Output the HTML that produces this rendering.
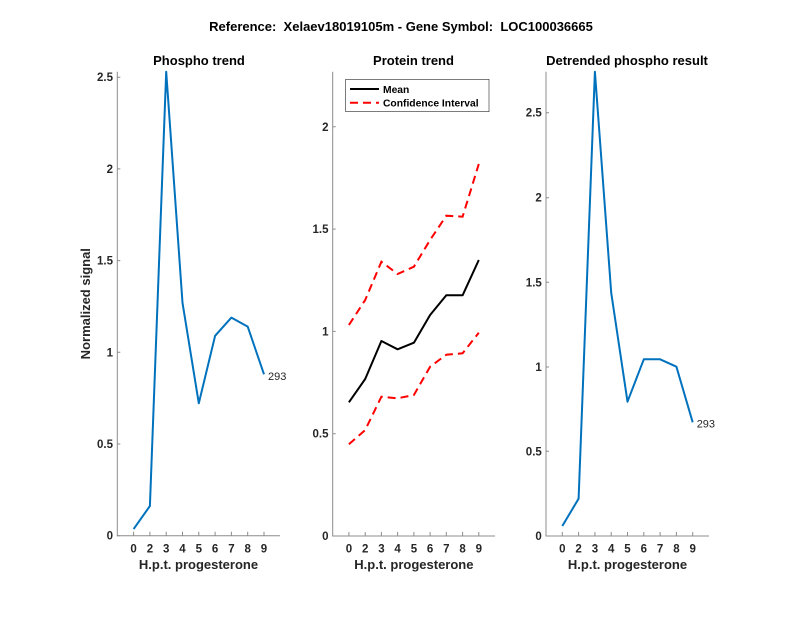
<!DOCTYPE html>
<html>
<head>
<meta charset="utf-8">
<style>
html,body{margin:0;padding:0;background:#fff;}
svg{display:block;}
text{font-family:"Liberation Sans",Arial,sans-serif;}
.t{font-size:13px;font-weight:bold;fill:#000;}
.tk{font-size:11.5px;font-weight:bold;fill:#262626;}
.lab{font-size:13px;font-weight:bold;fill:#262626;}
.ax{stroke:#8c8c8c;stroke-width:1;fill:none;}
.bl{stroke:#0072BD;stroke-width:2;fill:none;stroke-linejoin:round;}
</style>
</head>
<body>
<svg width="800" height="618" viewBox="0 0 800 618" xmlns="http://www.w3.org/2000/svg">
<rect width="800" height="618" fill="#fff"/>
<text class="t" x="401" y="31" text-anchor="middle" xml:space="preserve">Reference:  Xelaev18019105m - Gene Symbol:  LOC100036665</text>

<!-- Left panel -->
<text class="t" x="199" y="65" text-anchor="middle">Phospho trend</text>
<path class="ax" d="M117.3,71.7 V535.7 H280"/>
<g class="ax">
<path d="M117.3,535.7h3 M117.3,444h3 M117.3,352.3h3 M117.3,260.6h3 M117.3,168.9h3 M117.3,77.2h3"/>
<path d="M133.6,535.7v-4 M149.9,535.7v-4 M166.2,535.7v-4 M182.5,535.7v-4 M198.8,535.7v-4 M215.1,535.7v-4 M231.4,535.7v-4 M247.7,535.7v-4 M264,535.7v-4"/>
</g>
<g class="tk" text-anchor="end">
<text x="113" y="539.7">0</text>
<text x="113" y="448">0.5</text>
<text x="113" y="356.3">1</text>
<text x="113" y="264.6">1.5</text>
<text x="113" y="172.9">2</text>
<text x="113" y="81.2">2.5</text>
</g>
<g class="tk" text-anchor="middle">
<text x="133.6" y="552.7">0</text><text x="149.9" y="552.7">2</text><text x="166.2" y="552.7">3</text><text x="182.5" y="552.7">4</text><text x="198.8" y="552.7">5</text><text x="215.1" y="552.7">6</text><text x="231.4" y="552.7">7</text><text x="247.7" y="552.7">8</text><text x="264" y="552.7">9</text>
</g>
<text class="lab" x="198.5" y="569" text-anchor="middle">H.p.t. progesterone</text>
<text class="lab" transform="translate(90,303.7) rotate(-90)" text-anchor="middle">Normalized signal</text>
<polyline class="bl" points="133.6,529.1 149.9,506 166.2,71.7 182.5,302.8 198.8,403.3 215.1,335.8 231.4,317.6 247.7,326.6 264,374.3"/>
<text x="268" y="380" style="font-size:11px;fill:#262626;">293</text>

<!-- Middle panel -->
<text class="t" x="413.5" y="65" text-anchor="middle">Protein trend</text>
<path class="ax" d="M332.7,71.7 V536 H495"/>
<g class="ax">
<path d="M332.7,536h3 M332.7,433.7h3 M332.7,331.4h3 M332.7,229.1h3 M332.7,126.8h3"/>
<path d="M348.9,536v-4 M365.2,536v-4 M381.4,536v-4 M397.6,536v-4 M413.9,536v-4 M430.1,536v-4 M446.3,536v-4 M462.6,536v-4 M478.8,536v-4"/>
</g>
<g class="tk" text-anchor="end">
<text x="328.5" y="540">0</text>
<text x="328.5" y="437.7">0.5</text>
<text x="328.5" y="335.4">1</text>
<text x="328.5" y="233.1">1.5</text>
<text x="328.5" y="130.8">2</text>
</g>
<g class="tk" text-anchor="middle">
<text x="348.9" y="552.7">0</text><text x="365.2" y="552.7">2</text><text x="381.4" y="552.7">3</text><text x="397.6" y="552.7">4</text><text x="413.9" y="552.7">5</text><text x="430.1" y="552.7">6</text><text x="446.3" y="552.7">7</text><text x="462.6" y="552.7">8</text><text x="478.8" y="552.7">9</text>
</g>
<text class="lab" x="413.9" y="569" text-anchor="middle">H.p.t. progesterone</text>
<polyline points="348.9,402.3 365.2,379 381.4,341 397.6,349.3 413.9,342.7 430.1,315 446.3,295.3 462.6,295.3 478.8,260" fill="none" stroke="#000" stroke-width="2" stroke-linejoin="round"/>
<polyline points="348.9,325 365.2,300 381.4,261.7 397.6,274 413.9,266.7 430.1,240 446.3,215.7 462.6,216.7 478.8,164" fill="none" stroke="#ff0000" stroke-width="2" stroke-dasharray="8,5"/>
<polyline points="348.9,444.3 365.2,430 381.4,396.7 397.6,398.3 413.9,395 430.1,366.7 446.3,354.7 462.6,353.3 478.8,332.7" fill="none" stroke="#ff0000" stroke-width="2" stroke-dasharray="8,5"/>
<!-- legend -->
<rect x="345.7" y="79.3" width="143.3" height="32.4" fill="#fff" stroke="#262626" stroke-width="0.6"/>
<line x1="350" y1="89" x2="379" y2="89" stroke="#000" stroke-width="2"/>
<line x1="350" y1="102.7" x2="379" y2="102.7" stroke="#ff0000" stroke-width="2" stroke-dasharray="8,5"/>
<text x="383" y="93" style="font-size:10.3px;font-weight:bold;fill:#000;">Mean</text>
<text x="383" y="106.7" style="font-size:10.3px;font-weight:bold;fill:#000;">Confidence Interval</text>

<!-- Right panel -->
<text class="t" x="627" y="65" text-anchor="middle">Detrended phospho result</text>
<path class="ax" d="M546,71.7 V536 H709"/>
<g class="ax">
<path d="M546,536h3 M546,451.3h3 M546,367h3 M546,282.3h3 M546,197.7h3 M546,112.7h3"/>
<path d="M562.3,536v-4 M578.6,536v-4 M594.9,536v-4 M611.2,536v-4 M627.5,536v-4 M643.8,536v-4 M660.1,536v-4 M676.4,536v-4 M692.7,536v-4"/>
</g>
<g class="tk" text-anchor="end">
<text x="541.8" y="540">0</text>
<text x="541.8" y="455.3">0.5</text>
<text x="541.8" y="371">1</text>
<text x="541.8" y="286.3">1.5</text>
<text x="541.8" y="201.7">2</text>
<text x="541.8" y="116.7">2.5</text>
</g>
<g class="tk" text-anchor="middle">
<text x="562.3" y="552.7">0</text><text x="578.6" y="552.7">2</text><text x="594.9" y="552.7">3</text><text x="611.2" y="552.7">4</text><text x="627.5" y="552.7">5</text><text x="643.8" y="552.7">6</text><text x="660.1" y="552.7">7</text><text x="676.4" y="552.7">8</text><text x="692.7" y="552.7">9</text>
</g>
<text class="lab" x="627.5" y="569" text-anchor="middle">H.p.t. progesterone</text>
<polyline class="bl" points="562.3,526 578.6,498.7 594.9,71.7 611.2,292.7 627.5,401.7 643.8,359.3 660.1,359.3 676.4,366.7 692.7,422.3"/>
<text x="696.7" y="427.5" style="font-size:11px;fill:#262626;">293</text>
</svg>
</body>
</html>
